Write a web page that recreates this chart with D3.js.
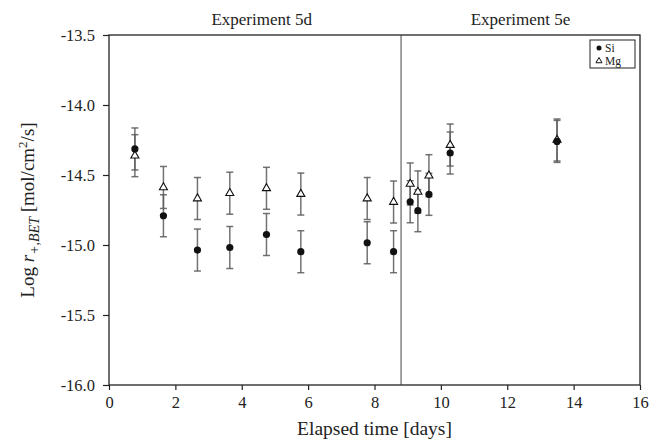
<!DOCTYPE html>
<html>
<head>
<meta charset="utf-8">
<script src="https://cdn.jsdelivr.net/npm/d3@7"></script>
<style>
  body { margin: 0; background: #fff; }
  svg text { font-family: "Liberation Serif", "Times New Roman", Tinos, "Noto Serif", "DejaVu Serif", serif !important; fill: #222; }
</style>
</head>
<body>
<div class="chart"></div>
<script>
var margin = {top: 35, right: 22, bottom: 55, left: 109};
var w = 662;
var h = 440;

// data
var days  = [0.78, 1.64, 2.665, 3.64, 4.745, 5.78, 7.78, 8.575, 9.075, 9.307, 9.64, 10.28, 13.5];
var si    = [-14.314, -14.791, -15.036, -15.018, -14.925, -15.048, -14.984, -15.048, -14.691, -14.755, -14.638, -14.343, -14.26];
var siErr = [0.15, 0.15, 0.15, 0.15, 0.15, 0.15, 0.15, 0.15, 0.15, 0.15, 0.15, 0.15, 0.15];
var mg    = [-14.362, -14.589, -14.668, -14.63, -14.595, -14.636, -14.668, -14.693, -14.564, -14.621, -14.505, -14.286, -14.25];
var mgErr = [0.15, 0.15, 0.15, 0.15, 0.15, 0.15, 0.15, 0.15, 0.15, 0.15, 0.15, 0.15, 0.15];
var xTicks = [0, 2, 4, 6, 8, 10, 12, 14, 16];
var yTicks = [-13.5, -14.0, -14.5, -15.0, -15.5, -16.0];
var splitDay = 8.8;
var experiments = [{name: "Experiment 5d", at: 4.6}, {name: "Experiment 5e", at: 12.4}];

var pw = w - margin.left - margin.right;
var ph = h - margin.top - margin.bottom;

var svg = d3.select(".chart")
            .append("svg")
            .attr("width", w)
            .attr("height", h);

var x = d3.scaleLinear().domain([0, 16]).range([0, pw]);
var y = d3.scaleLinear().domain([-16, -13.5]).range([ph, 0]);

var g = svg.append("g")
           .attr("transform", "translate(" + margin.left + "," + margin.top + ")");

// axes
var xAxis = g.append("g")
   .attr("transform", "translate(0," + ph + ")")
   .call(d3.axisBottom(x).tickValues(xTicks).tickSize(5).tickPadding(6).tickFormat(d3.format("d")));

var yAxis = g.append("g")
   .call(d3.axisLeft(y).tickValues(yTicks).tickSize(6).tickPadding(8).tickFormat(d3.format(".1f")));

[xAxis, yAxis].forEach(function (a) {
  a.attr("font-family", null);
  a.select(".domain").remove();
  a.selectAll("line").attr("stroke", "#222").attr("stroke-width", 1.2);
  a.selectAll("text").attr("font-size", 16.5).attr("fill", "#222");
});
yAxis.selectAll("text").text(function (d) { return d3.format(".1f")(d).replace("−", "-"); });

// frame
g.append("rect")
 .attr("width", pw).attr("height", ph)
 .attr("fill", "none").attr("stroke", "#222").attr("stroke-width", 1.3);

// experiment divider
g.append("line")
 .attr("x1", x(splitDay)).attr("x2", x(splitDay))
 .attr("y1", 0).attr("y2", ph)
 .attr("stroke", "#444").attr("stroke-width", 1);

g.selectAll(".expLabel")
 .data(experiments)
 .enter()
 .append("text")
 .attr("class", "expLabel")
 .attr("x", function (d) { return x(d.at); })
 .attr("y", -10)
 .attr("text-anchor", "middle")
 .attr("font-size", 17)
 .text(function (d) { return d.name; });

// error bars
function errorBars(vals, errs, cls) {
  var rows = days.map(function (d, i) { return {t: d, v: vals[i], e: errs[i]}; });
  var eb = g.selectAll("." + cls)
            .data(rows)
            .enter()
            .append("g")
            .attr("class", cls)
            .attr("stroke", "#5a5a5a")
            .attr("stroke-opacity", 0.85)
            .attr("stroke-width", 1.5);
  eb.append("line")
    .attr("x1", (d) => x(d.t)).attr("x2", (d) => x(d.t))
    .attr("y1", (d) => y(d.v + d.e)).attr("y2", (d) => y(d.v - d.e));
  [1, -1].forEach(function (s) {
    eb.append("line")
      .attr("x1", (d) => x(d.t) - 3.5).attr("x2", (d) => x(d.t) + 3.5)
      .attr("y1", (d) => y(d.v + s * d.e)).attr("y2", (d) => y(d.v + s * d.e));
  });
}
errorBars(mg, mgErr, "mgErr");
errorBars(si, siErr, "siErr");

var tri = d3.symbol().type(d3.symbolTriangle).size(28);

g.selectAll(".mg")
 .data(mg)
 .enter()
 .append("path")
 .attr("class", "mg")
 .attr("d", tri)
 .attr("transform", (d, i) => "translate(" + x(days[i]) + "," + y(d) + ")")
 .attr("fill", "#fff")
 .attr("stroke", "#111")
 .attr("stroke-width", 1.1);

g.selectAll(".si")
 .data(si)
 .enter()
 .append("circle")
 .attr("class", "si")
 .attr("cx", (d, i) => x(days[i]))
 .attr("cy", (d) => y(d))
 .attr("r", 3.6)
 .attr("fill", "#111");

// legend
var lg = svg.append("g").attr("transform", "translate(590,40)");
lg.append("rect").attr("width", 45).attr("height", 28)
  .attr("fill", "#fff").attr("stroke", "#222").attr("stroke-width", 1);
lg.append("circle").attr("cx", 9).attr("cy", 8).attr("r", 2.5).attr("fill", "#111");
lg.append("path").attr("d", d3.symbol().type(d3.symbolTriangle).size(16))
  .attr("transform", "translate(9,21)")
  .attr("fill", "#fff").attr("stroke", "#111").attr("stroke-width", 1);
lg.append("text").attr("x", 15).attr("y", 12).attr("font-size", 11.5).text("Si");
lg.append("text").attr("x", 15).attr("y", 25).attr("font-size", 11.5).text("Mg");

// axis titles
svg.append("text")
   .attr("x", margin.left + pw / 2)
   .attr("y", 435)
   .attr("text-anchor", "middle")
   .attr("font-size", 19.5)
   .text("Elapsed time [days]");

var yl = svg.append("text")
   .attr("transform", "translate(34," + (margin.top + ph / 2) + ") rotate(-90)")
   .attr("text-anchor", "middle")
   .attr("font-size", 19);
yl.append("tspan").text("Log ");
yl.append("tspan").attr("font-style", "italic").text("r");
yl.append("tspan").attr("font-style", "italic").attr("font-size", 14).attr("dy", 5).text("+,BET");
yl.append("tspan").attr("dy", -5).text(" [mol/cm");
yl.append("tspan").attr("font-size", 13).attr("dy", -7).text("2");
yl.append("tspan").attr("dy", 7).text("/s]");
</script>
</body>
</html>
